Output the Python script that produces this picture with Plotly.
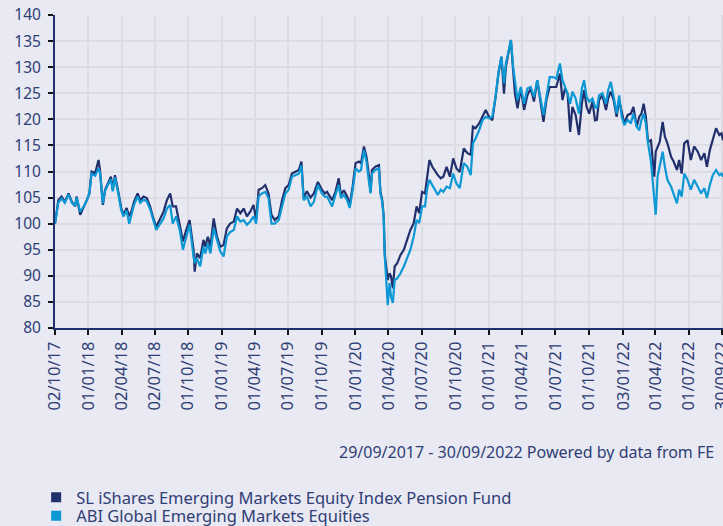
import pandas as pd
import plotly.graph_objects as go

# ---- data ----
start_date = "2017-10-02"
day_offset = [
    0, 9, 18, 27, 37, 46, 55, 59, 69, 78, 87, 94, 100, 110, 119, 123, 131, 137, 146, 153,
    158, 164, 174, 181, 187, 196, 203, 210, 216, 226, 233, 242, 251, 260, 269, 277, 286, 297, 306, 315,
    322, 331, 341, 350, 359, 368,
    379, 382, 388, 397, 406, 411, 418, 425, 434, 443, 452, 461, 470, 479, 489, 498, 507, 516, 525, 534,
    543, 550, 557, 566, 575, 584, 592, 601, 612, 621, 630, 639, 648, 657, 667, 674, 680, 689, 699, 708,
    719, 730, 738,
    744, 758, 767, 776, 782, 790, 799, 806, 814, 822, 831, 837, 845, 852, 858, 863, 867, 876, 886, 890,
    895, 899, 902, 906, 910, 915, 919, 924, 929, 936, 945, 954, 963, 972, 981, 989, 996, 1004, 1012, 1018,
    1024, 1032, 1041, 1047, 1055, 1062, 1071, 1080, 1089, 1098, 1107,
    1118, 1128, 1137, 1143, 1150, 1160, 1169, 1178, 1187, 1196, 1205, 1213, 1221, 1228, 1233, 1240, 1247, 1253, 1258, 1265,
    1274, 1283, 1292, 1301, 1310, 1319, 1328, 1336, 1344, 1353, 1362, 1371, 1381, 1388, 1395, 1402, 1409, 1415, 1424, 1433,
    1441, 1447, 1454, 1461, 1470, 1477,
    1482, 1488, 1497, 1507, 1513, 1520, 1528, 1536, 1543, 1550, 1557, 1566, 1575, 1582, 1591, 1598, 1604, 1610, 1616, 1622,
    1630, 1634, 1639, 1643, 1648, 1654, 1662, 1668, 1675, 1685, 1692, 1701, 1707, 1714, 1721, 1730, 1739, 1748, 1758, 1767,
    1776, 1783, 1791, 1799, 1808, 1817, 1823, 1827,
]
sl_values = [
    100.0, 104.5, 105.2, 104.2, 105.8, 104.2, 103.3, 105.2, 101.7, 103.0, 104.5, 105.8, 110.0, 109.7, 112.2, 110.3, 103.6, 106.5, 108.0, 109.0,
    106.5, 109.3, 105.8, 103.0, 101.7, 103.0, 101.4, 102.6, 104.2, 105.8, 104.5, 105.2, 104.9, 103.3, 101.0, 99.4, 100.7, 102.3, 104.5, 105.8,
    103.3, 103.3, 99.8, 96.6, 98.8, 100.7,
    95.0, 90.8, 94.3, 93.4, 96.9, 95.6, 97.5, 95.6, 101.0, 97.5, 95.6, 95.9, 99.1, 100.0, 100.4, 102.9, 102.0, 102.9, 101.4, 102.3,
    103.6, 100.7, 106.5, 106.8, 107.4, 105.8, 101.7, 100.7, 101.4, 104.5, 106.8, 107.4, 109.6, 110.0, 110.3, 111.9, 105.0, 106.2, 105.0, 105.8,
    108.0, 106.5, 105.8,
    106.1, 104.5, 106.1, 108.7, 105.5, 106.4, 105.2, 103.6, 107.1, 111.6, 111.9, 111.6, 114.8, 112.8, 109.6, 106.1, 110.3, 110.9, 111.2, 106.1,
    104.5, 101.4, 94.0, 91.2, 89.2, 90.5, 89.9, 87.6, 91.8, 92.4, 94.0, 95.0, 96.9, 98.8, 100.1, 103.3, 102.0, 106.1, 105.8, 109.0,
    112.2, 110.9, 109.9, 109.3, 108.7, 109.0, 110.9, 109.0, 112.5, 110.6, 109.9,
    114.4, 113.5, 113.2, 118.6, 118.3, 119.2, 120.5, 121.8, 120.5, 119.8, 124.3, 128.8, 132.0, 124.9, 130.0, 132.9, 135.2, 129.4, 124.9, 122.1,
    125.9, 121.8, 124.6, 125.9, 123.4, 127.5, 123.4, 119.5, 123.7, 126.2, 126.2, 126.2, 128.8, 123.7, 125.9, 124.9, 117.6, 122.4, 120.8, 117.0,
    123.0, 125.6, 122.4, 121.1, 123.4, 119.8,
    119.9, 123.7, 124.6, 121.8, 124.0, 125.3, 123.7, 120.5, 123.7, 121.1, 119.2, 120.8, 121.1, 122.4, 118.6, 120.5, 121.1, 123.0, 120.5, 115.7,
    116.0, 112.8, 109.0, 113.8, 114.8, 115.7, 119.5, 116.7, 115.4, 112.8, 111.9, 110.3, 112.2, 109.6, 115.4, 116.0, 112.2, 114.8, 113.8, 112.2,
    113.5, 110.9, 114.1, 116.3, 118.3, 117.0, 117.3, 116.0,
]
abi_values = [
    100.0, 104.0, 104.8, 104.0, 105.6, 104.0, 103.4, 105.0, 102.3, 103.2, 104.5, 105.8, 109.6, 109.2, 110.6, 109.8, 103.9, 106.3, 107.6, 108.5,
    106.2, 108.9, 105.4, 102.6, 101.4, 102.5, 100.0, 102.0, 103.6, 105.2, 104.0, 104.6, 104.3, 102.8, 100.6, 98.8, 99.8, 101.0, 102.9, 103.6,
    100.0, 101.4, 98.8, 95.0, 97.5, 99.8,
    93.7, 92.4, 93.4, 91.8, 95.6, 94.3, 96.2, 94.3, 99.1, 96.9, 94.7, 93.7, 97.5, 98.4, 98.8, 101.4, 100.4, 100.7, 99.8, 100.4,
    101.4, 100.0, 105.2, 105.8, 106.1, 104.9, 100.0, 100.0, 100.7, 103.3, 105.8, 106.5, 109.0, 109.3, 109.6, 111.2, 104.5, 105.2, 103.3, 104.2,
    107.4, 105.8, 105.2,
    105.2, 103.3, 105.5, 107.4, 104.9, 105.5, 104.5, 103.0, 106.4, 110.6, 110.0, 110.3, 114.1, 111.9, 108.4, 105.8, 109.6, 110.3, 110.6, 105.8,
    104.2, 101.0, 93.7, 89.9, 84.4, 88.6, 86.0, 84.8, 89.2, 89.5, 90.5, 91.8, 93.4, 95.0, 97.5, 100.7, 100.1, 103.3, 103.3, 106.8,
    108.4, 107.4, 106.5, 105.5, 106.5, 106.1, 107.1, 106.8, 109.6, 107.7, 106.8,
    111.6, 110.9, 109.3, 115.4, 116.3, 117.9, 119.8, 120.5, 120.2, 120.5, 124.3, 129.1, 132.0, 126.9, 130.7, 132.9, 135.2, 130.0, 127.5, 123.7,
    126.2, 123.0, 125.9, 126.2, 124.3, 127.5, 124.0, 120.8, 124.3, 128.1, 128.1, 127.8, 130.7, 127.5, 126.2, 124.9, 123.0, 125.3, 124.0, 121.1,
    125.9, 127.5, 124.3, 123.4, 124.0, 122.4,
    122.1, 124.6, 125.0, 123.0, 125.6, 127.2, 124.3, 121.1, 124.6, 120.5, 118.9, 119.9, 119.2, 121.1, 118.6, 117.9, 119.9, 121.1, 119.2, 115.4,
    111.9, 109.0, 105.8, 101.7, 109.0, 110.9, 113.8, 110.9, 108.4, 107.1, 105.8, 103.9, 106.5, 105.2, 109.6, 108.4, 106.5, 108.4, 107.1, 105.8,
    106.8, 104.9, 107.4, 109.3, 110.3, 109.3, 109.6, 109.0,
]
tick_dates = [
    "2017-10-02", "2018-01-01", "2018-04-02", "2018-07-02", "2018-10-01", "2019-01-01", "2019-04-01",
    "2019-07-01", "2019-10-01", "2020-01-01", "2020-04-01", "2020-07-01", "2020-10-01", "2021-01-01",
    "2021-04-01", "2021-07-01", "2021-10-01", "2022-01-03", "2022-04-01", "2022-07-01", "2022-09-30",
]
tick_labels = [
    "02/10/17", "01/01/18", "02/04/18", "02/07/18", "01/10/18", "01/01/19", "01/04/19",
    "01/07/19", "01/10/19", "01/01/20", "01/04/20", "01/07/20", "01/10/20", "01/01/21",
    "01/04/21", "01/07/21", "01/10/21", "03/01/22", "01/04/22", "01/07/22", "30/09/22",
]
y_ticks = [80, 85, 90, 95, 100, 105, 110, 115, 120, 125, 130, 135, 140]
series_names = [
    "SL iShares Emerging Markets Equity Index Pension Fund",
    "ABI Global Emerging Markets Equities",
]
footer = "29/09/2017 - 30/09/2022 Powered by data from FE"

# ---- style ----
DARK = "#21306c"
LIGHT = "#0b98d5"
TEXT = "#2f3e75"
BG = "#e8e9f2"
GRID = "#dcdce2"
FONT = "Noto Sans"

dates = pd.Timestamp(start_date) + pd.to_timedelta(day_offset, unit="D")

fig = go.Figure()
fig.add_trace(go.Scatter(x=dates, y=sl_values, mode="lines", line=dict(color=DARK, width=2.2),
                         showlegend=False, hoverinfo="skip"))
fig.add_trace(go.Scatter(x=dates, y=abi_values, mode="lines", line=dict(color=LIGHT, width=2.2),
                         showlegend=False, hoverinfo="skip"))
# legend entries (square swatches)
fig.add_trace(go.Scatter(x=[None], y=[None], mode="markers", name=series_names[0],
                         marker=dict(symbol="square", size=10, color=DARK), legend="legend"))
fig.add_trace(go.Scatter(x=[None], y=[None], mode="markers", name=series_names[1],
                         marker=dict(symbol="square", size=10, color=LIGHT), legend="legend2"))

fig.update_layout(
    width=723, height=526,
    margin=dict(l=55, r=0, t=15, b=198, autoexpand=False),
    paper_bgcolor=BG, plot_bgcolor=BG,
    font=dict(family=FONT, color=TEXT, size=15),
    xaxis=dict(
        type="date",
        range=["2017-10-02", "2022-10-03"],
        tickmode="array", tickvals=tick_dates, ticktext=tick_labels,
        tickangle=-90, tickfont=dict(size=16.5, color=TEXT, family=FONT),
        ticks="outside", ticklen=5, tickwidth=2, tickcolor="#151515",
        showgrid=True, gridcolor=GRID, gridwidth=2,
        showline=True, linecolor=DARK, linewidth=2,
        ticklabeloverflow="allow", zeroline=False, automargin=False,
    ),
    yaxis=dict(
        range=[80, 140],
        tickmode="array", tickvals=y_ticks,
        tickfont=dict(size=15.5, color=TEXT, family=FONT),
        ticks="outside", ticklen=5, tickwidth=2, tickcolor="#151515",
        ticklabelstandoff=4,
        showgrid=True, gridcolor=GRID, gridwidth=2,
        showline=True, linecolor=DARK, linewidth=2, zeroline=False, automargin=False,
    ),
    legend=dict(x=0.05, xref="container", y=0.054, yref="container",
                xanchor="left", yanchor="middle", bgcolor="rgba(0,0,0,0)",
                font=dict(size=16.5, color=TEXT, family=FONT)),
    legend2=dict(x=0.05, xref="container", y=0.019, yref="container",
                 xanchor="left", yanchor="middle", bgcolor="rgba(0,0,0,0)",
                 font=dict(size=16.5, color=TEXT, family=FONT)),
    annotations=[dict(text=footer, xref="paper", yref="paper", x=0.9895, y=-0.397,
                      xanchor="right", yanchor="middle", showarrow=False,
                      font=dict(size=16, color=TEXT, family=FONT))],
)

fig.write_html("out.html", config={"displayModeBar": False},
               post_script="document.body.style.margin='0';")
